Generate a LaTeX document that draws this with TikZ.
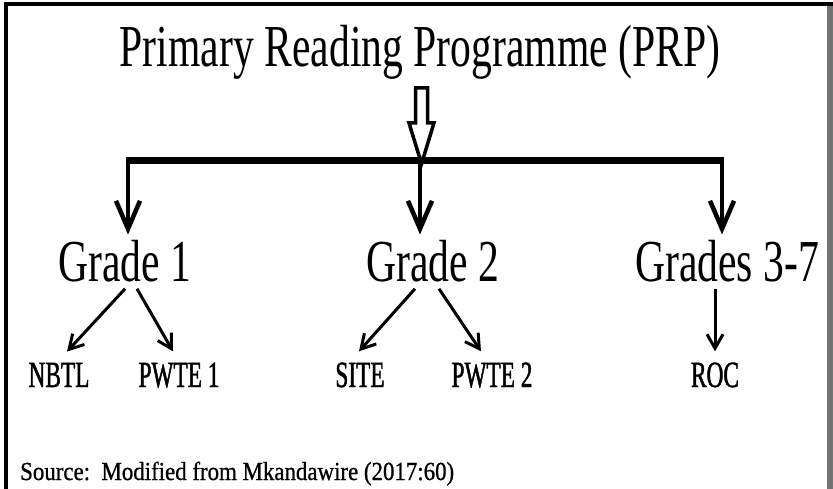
\documentclass[tikz,border=0pt]{standalone}
\usepackage{fontspec}
\setmainfont{Liberation Serif}
\newfontfamily\headfont[FakeStretch=0.70]{Liberation Serif}
\newfontfamily\itemfont[FakeStretch=0.63,FakeBold=1.2]{Liberation Serif}
\newfontfamily\notefont[FakeStretch=0.88,FakeBold=0.8]{Liberation Serif}
\usetikzlibrary{arrows.meta,shapes.arrows,calc}

\begin{document}
\begin{tikzpicture}[x=1pt,y=-1pt]
% Styles
\tikzset{
  heading/.style={font=\headfont\fontsize{59.5}{60}\selectfont, inner sep=0pt},
  grade/.style={font=\headfont\fontsize{59.5}{60}\selectfont, inner xsep=0pt, inner ysep=6pt},
  subitem/.style={font=\itemfont\fontsize{37}{38}\selectfont, inner xsep=0pt, inner ysep=11pt},
  srcnote/.style={font=\notefont\fontsize{26}{27}\selectfont, inner sep=0pt},
  hollow/.style={single arrow, draw, line width=3.5pt, fill=white, rotate=-90,
    minimum height=76pt, minimum width=8pt, single arrow head extend=6.5pt,
    single arrow tip angle=34, inner xsep=0pt, inner ysep=4.25pt},
  bar/.style={line width=7pt},
  mainarrow/.style={line width=4.5pt, -{Straight Barb[length=28pt,width=24pt]}},
  subarrow/.style={line width=3pt, -{Straight Barb[length=14pt,width=16pt]}}
}
\useasboundingbox (0,0) rectangle (833,489);

% Frame
\draw[line width=4pt] (5.5,489) -- (5.5,4.5) -- (833,4.5);
\draw[line width=6pt, black!55] (830,6.5) -- (830,489);

% Title
\node[heading, anchor=base] (prp) at (420,67) {Primary Reading Programme (PRP)};
\node[hollow] (flow) at (421.5,116) {};

% Branch bar
\coordinate (b1) at (128,161);
\coordinate (b2) at (420,161);
\coordinate (b3) at (722,161);
\draw[bar] ([xshift=-2.25pt]b1) -- ([xshift=2.25pt]b3);

% Grades
\node[grade, anchor=base] (g1) at (125,282) {Grade 1};
\node[grade, anchor=base] (g2) at (433,282) {Grade 2};
\node[grade, anchor=base] (g3) at (727,282) {Grades 3-7};

\draw[mainarrow] (b1) -- (b1 |- g1.north);
\draw[mainarrow] (b2) -- (b2 |- g2.north);
\draw[mainarrow] (b3) -- (b3 |- g3.north);

% Programmes
\node[subitem, anchor=base] (nbtl) at (59,387) {NBTL};
\node[subitem, anchor=base] (pwte1) at (179,387) {PWTE 1};
\node[subitem, anchor=base] (site) at (360,387) {SITE};
\node[subitem, anchor=base] (pwte2) at (492,387) {PWTE 2};
\node[subitem, anchor=base] (roc) at (715,387) {ROC};

\draw[subarrow] (g1.south) -- ([xshift=8pt]nbtl.north);
\draw[subarrow] ([xshift=12pt]g1.south) -- ([xshift=-6pt]pwte1.north);
\draw[subarrow] ([xshift=-18pt]g2.south) -- ([xshift=-1pt]site.north);
\draw[subarrow] ([xshift=6pt]g2.south) -- ([xshift=-11pt]pwte2.north);
\draw[subarrow] ([xshift=-12pt]g3.south) -- (roc.north);

% Source
\node[srcnote, anchor=base west] (src) at (20,480) {Source:\ \ Modified from Mkandawire (2017:60)};

\end{tikzpicture}
\end{document}
